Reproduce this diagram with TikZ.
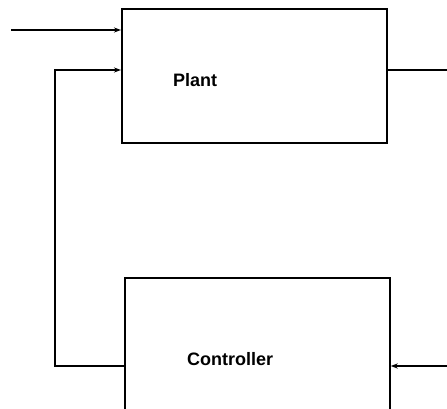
\documentclass[tikz,border=0pt]{standalone}
\usepackage{fontspec}
\setmainfont{Liberation Sans}
\usetikzlibrary{arrows.meta}
\begin{document}
\begin{tikzpicture}[x=1pt,y=1pt,
  blockbox/.style={draw,line width=1.7pt,inner sep=0pt},
  conn/.style={line width=1.4pt},
  arr/.style={conn,-{Stealth[length=7pt,width=5pt]}},
  lbl/.style={font=\bfseries\fontsize{18}{20}\selectfont,anchor=base west,inner sep=0pt}]
\useasboundingbox (0,0) rectangle (447,409);
\clip (0,0) rectangle (447,409);
% boxes
\node[blockbox,minimum width=265pt,minimum height=134pt,anchor=north west] (plant) at (121,401) {};
\node[blockbox,minimum width=265pt,minimum height=160pt,anchor=north west] (ctrl) at (124,132) {};
% labels
\node[lbl] (plantlbl) at (173,322) {Plant};
\node[lbl] (ctrllbl) at (187,43) {Controller};
% coordinates
\coordinate (in) at (11,379);
\coordinate (out) at (447,339);
\coordinate (fbin) at (447,43);
\coordinate (corner1) at (55,43);
\coordinate (corner2) at (55,339);
% connectors
\draw[arr] (in) -- (plant.west |- in);
\draw[conn] (plant.east |- out) -- (out);
\draw[arr] (fbin) -- (ctrl.east |- fbin);
\draw[arr] (ctrl.west |- corner1) -- (corner1) -- (corner2) -- (plant.west |- corner2);
\end{tikzpicture}
\end{document}
